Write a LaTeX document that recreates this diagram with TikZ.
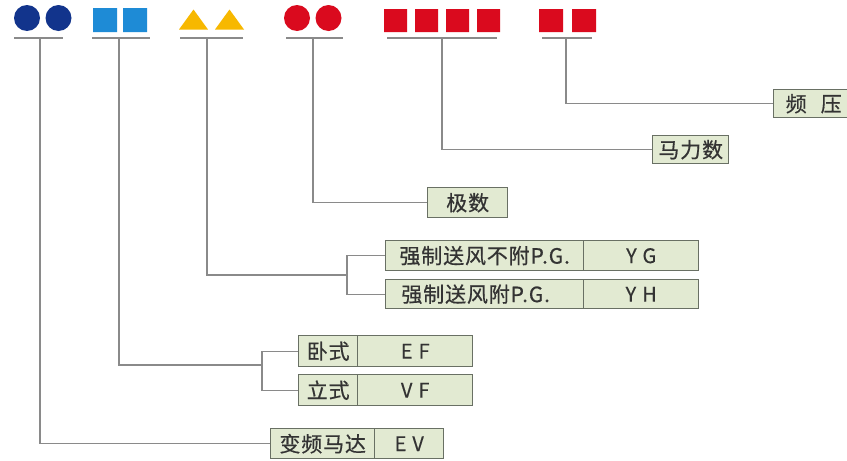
\documentclass[tikz,border=0pt]{standalone}
\usepackage{fontspec}
\setmainfont{Noto Sans CJK SC}
\newfontfamily\cjk[LetterSpace=4,FakeBold=0.6]{Noto Sans CJK SC}
\newfontfamily\codefont[LetterSpace=30,FakeBold=0.3]{Noto Sans CJK SC}
\definecolor{navy}{RGB}{18,52,140}
\definecolor{skyblue}{RGB}{30,139,214}
\definecolor{gold}{RGB}{247,184,0}
\definecolor{redc}{RGB}{218,10,30}
\definecolor{boxfill}{RGB}{226,234,210}
\definecolor{boxline}{RGB}{105,112,100}
\definecolor{linec}{RGB}{138,138,138}
\tikzset{
  cell/.style={draw=boxline, line width=1.4pt, fill=boxfill, inner sep=0pt,
    anchor=north west, font=\cjk\fontsize{21}{21}\selectfont, text=black!80},
  lcell/.style={cell, text width=#1, align=left},
  codecell/.style={cell, font=\codefont\fontsize{20}{20}\selectfont},
  conn/.style={draw=linec, line width=1.3pt},
  uline/.style={draw=linec, line width=1.8pt},
}
\begin{document}
\begin{tikzpicture}[x=1pt,y=-1pt]
\useasboundingbox (0,0) rectangle (847,461);
\fill[white] (0,0) rectangle (847,461);
% symbols
\fill[navy] (27,18) circle (13) (58.5,18) circle (13);
\fill[skyblue] (93,8) rectangle (117,32) (123,8) rectangle (147,32);
\fill[gold] (179,29.5) -- (193.5,9.5) -- (208,29.5) -- cycle (215,29.5) -- (229.5,9.5) -- (244,29.5) -- cycle;
\fill[redc] (297,18) circle (13) (328.5,18) circle (13);
\fill[redc] (384,9) rectangle (407,32) (415,9) rectangle (438,32) (446,9) rectangle (469,32) (477,9) rectangle (500,32);
\fill[redc] (539,9) rectangle (563,32) (572,9) rectangle (596,32);
% underlines
\draw[uline] (14,38) -- (63,38);
\draw[uline] (92,38) -- (150,38);
\draw[uline] (180,38) -- (243,38);
\draw[uline] (286,38) -- (343,38);
\draw[uline] (387,38) -- (497,38);
\draw[uline] (542,38) -- (592,38);
\coordinate (u1) at (40,38);
\coordinate (u2) at (119,38);
\coordinate (u3) at (207,38);
\coordinate (u4) at (313,38);
\coordinate (u5) at (442,38);
\coordinate (u6) at (566,38);
% boxes
\node[cell, minimum width=80, minimum height=28] (fp) at (773,89) {频\hspace{14pt}压};
\node[cell, minimum width=76, minimum height=28] (mls) at (652,135) {马力数};
\node[cell, minimum width=80, minimum height=30] (js) at (427,187) {极数};
\node[cell, minimum width=198, minimum height=30] (ygl) at (385,240) {强制送风不附P.G.};
\node[codecell, minimum width=115, minimum height=30] (yg) at (583,240) {YG};
\node[cell, minimum width=198, minimum height=29] (yhl) at (385,279) {\hspace{-18pt}强制送风附P.G.};
\node[codecell, minimum width=115, minimum height=29] (yh) at (583,279) {YH};
\node[cell, minimum width=59, minimum height=31] (efl) at (298,335) {卧式};
\node[codecell, minimum width=115, minimum height=31] (ef) at (357,335) {EF};
\node[cell, minimum width=59, minimum height=31] (vfl) at (298,374) {立式};
\node[codecell, minimum width=115, minimum height=31] (vf) at (357,374) {VF};
\node[cell, minimum width=104, minimum height=30] (evl) at (270,428) {变频马达};
\node[codecell, minimum width=69, minimum height=30] (ev) at (374,428) {EV};
% brackets
\coordinate (b3) at (347,275);
\coordinate (b2) at (262,365);
\draw[conn] (ygl.west) -| (b3) |- (yhl.west);
\draw[conn] (efl.west) -| (b2) |- (vfl.west);
% connectors
\draw[conn] (u6) |- (fp.west);
\draw[conn] (u5) |- (mls.west);
\draw[conn] (u4) |- (js.west);
\draw[conn] (u3) |- (b3);
\draw[conn] (u2) |- (b2);
\draw[conn] (u1) |- (evl.west);
\end{tikzpicture}
\end{document}
